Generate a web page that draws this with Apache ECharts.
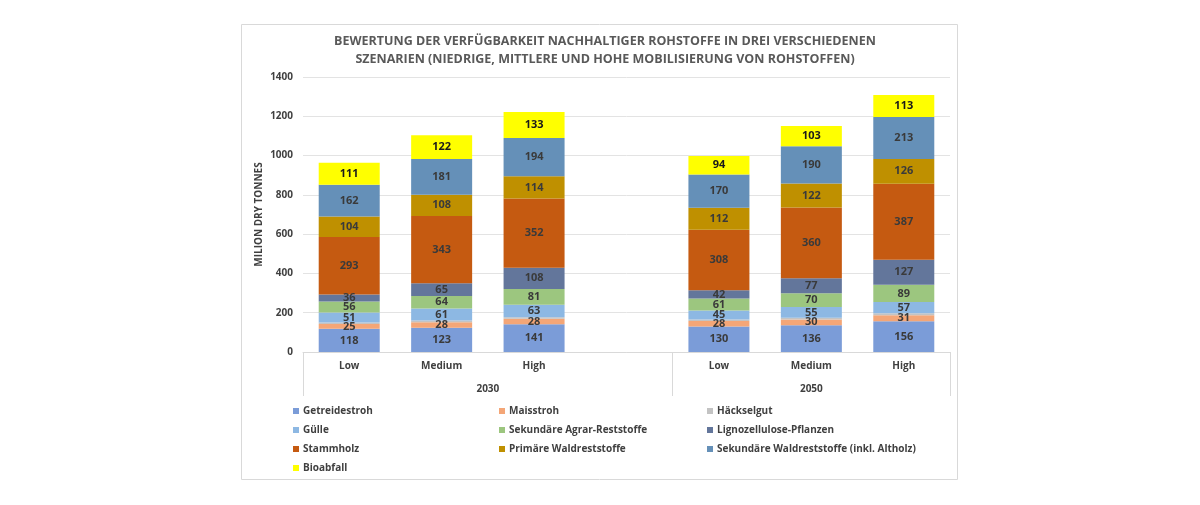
<!DOCTYPE html>
<html>
<head>
<meta charset="utf-8">
<script src="https://cdn.jsdelivr.net/npm/echarts@6/dist/echarts.min.js"></script>
<style>
  html, body { margin: 0; padding: 0; background: #fff; }
  #chart { width: 1200px; height: 505px; }
</style>
</head>
<body>
<div id="chart"></div>
<script>
// categories (empty slot separates the two years)
const categories = ["Low", "Medium", "High", "", "Low", "Medium", "High"];
const years = ["2030", "2050"];
const yearSlots = [4, 3];

const getreidestroh = [118, 123, 141, "-", 130, 136, 156];
const maisstroh = [25, 28, 28, "-", 28, 30, 31];
const haeckselgut = [7, 9, 8, "-", 8, 8, 10];
const guelle = [51, 61, 63, "-", 45, 55, 57];
const agrarReststoffe = [56, 64, 81, "-", 61, 70, 89];
const lignozellulose = [36, 65, 108, "-", 42, 77, 127];
const stammholz = [293, 343, 352, "-", 308, 360, 387];
const primaereWald = [104, 108, 114, "-", 112, 122, 126];
const sekundaereWald = [162, 181, 194, "-", 170, 190, 213];
const bioabfall = [111, 122, 133, "-", 94, 103, 113];

const FONT = "Open Sans";
const TXT = "#404040";

const seriesDefs = [
  { name: "Getreidestroh", data: getreidestroh, color: "#7b9cd8", label: true },
  { name: "Maisstroh", data: maisstroh, color: "#f4a677", label: true },
  { name: "Häckselgut", data: haeckselgut, color: "#c3c3c3", label: false },
  { name: "Gülle", data: guelle, color: "#8db8e3", label: true },
  { name: "Sekundäre Agrar-Reststoffe", data: agrarReststoffe, color: "#9cc67f", label: true },
  { name: "Lignozellulose-Pflanzen", data: lignozellulose, color: "#63769b", label: true },
  { name: "Stammholz", data: stammholz, color: "#c55a11", label: true },
  { name: "Primäre Waldreststoffe", data: primaereWald, color: "#bf9000", label: true },
  { name: "Sekundäre Waldreststoffe (inkl. Altholz)", data: sekundaereWald, color: "#6590b8", label: true },
  { name: "Bioabfall", data: bioabfall, color: "#ffff00", label: true },
];

// year axis: half-slot positions, boundaryGap false
const yearAxisData = [];
const yearTickIdx = [0];
const yearLabelIdx = {};
let pos = 0;
years.forEach((y, i) => {
  yearLabelIdx[pos + yearSlots[i]] = y;
  pos += yearSlots[i] * 2;
  yearTickIdx.push(pos);
});
for (let i = 0; i <= pos; i++) yearAxisData.push(yearLabelIdx[i] || "");

const chart = echarts.init(document.getElementById("chart"));

const legendCol = (left, names) => ({
  orient: "vertical",
  left: left,
  top: 405,
  padding: 0,
  itemGap: 7,
  itemWidth: 6,
  itemHeight: 6,
  icon: "rect",
  data: names,
  textStyle: { fontFamily: FONT, fontSize: 10, fontWeight: "bold", color: TXT, lineHeight: 12, padding: [0, 0, 0, -1] },
});

const option = {
  animation: false,
  textStyle: { fontFamily: FONT },
  title: {
    text: "BEWERTUNG DER VERFÜGBARKEIT NACHHALTIGER ROHSTOFFE IN DREI VERSCHIEDENEN\nSZENARIEN (NIEDRIGE, MITTLERE UND HOHE MOBILISIERUNG VON ROHSTOFFEN)",
    left: 600,
    top: 27,
    textAlign: "center",
    textStyle: { fontFamily: FONT, fontSize: 12.5, fontWeight: "bold", color: "#595959", lineHeight: 18 },
  },
  graphic: [
    {
      type: "rect",
      shape: { x: 241.5, y: 24.5, width: 716, height: 455 },
      style: { fill: "none", stroke: "#d9d9d9", lineWidth: 1 },
      silent: true,
    },
  ],
  legend: [
    legendCol(293, ["Getreidestroh", "Gülle", "Stammholz", "Bioabfall"]),
    legendCol(499, ["Maisstroh", "Sekundäre Agrar-Reststoffe", "Primäre Waldreststoffe"]),
    legendCol(707, ["Häckselgut", "Lignozellulose-Pflanzen", "Sekundäre Waldreststoffe (inkl. Altholz)"]),
  ],
  grid: { left: 303, right: 250, top: 77, bottom: 153 },
  xAxis: [
    {
      type: "category",
      data: categories,
      axisLine: { lineStyle: { color: "#d9d9d9" } },
      axisTick: { show: false },
      axisLabel: { color: TXT, fontSize: 10, fontWeight: "bold", margin: 9, interval: 0 },
    },
    {
      type: "category",
      position: "bottom",
      boundaryGap: false,
      data: yearAxisData,
      axisLine: { show: false },
      axisTick: {
        show: true,
        length: 44,
        interval: (i) => yearTickIdx.indexOf(i) >= 0,
        lineStyle: { color: "#d9d9d9" },
      },
      axisLabel: {
        color: TXT,
        fontSize: 10,
        fontWeight: "bold",
        margin: 32,
        interval: (i, v) => v !== "",
      },
    },
  ],
  yAxis: {
    type: "value",
    min: 0,
    max: 1400,
    interval: 200,
    name: "MILION DRY TONNES",
    nameLocation: "middle",
    nameRotate: 90,
    nameGap: 39,
    nameMoveOverlap: false,
    nameTextStyle: { fontFamily: FONT, fontSize: 10, fontWeight: "bold", color: TXT },
    axisLine: { show: false },
    axisTick: { show: false },
    axisLabel: { color: TXT, fontSize: 10, fontWeight: "bold", margin: 10, formatter: (v) => String(v) },
    splitLine: { lineStyle: { color: "#e3e3e3" } },
  },
  series: seriesDefs.map((s) => ({
    name: s.name,
    type: "bar",
    stack: "total",
    barWidth: "66%",
    data: s.data,
    itemStyle: { color: s.color },
    label: {
      show: s.label,
      position: "inside",
      fontFamily: FONT,
      fontSize: 11,
      fontWeight: "bold",
      color: s.name === "Bioabfall" ? "#1a1a1a" : "#3a3a3a",
    },
  })),
};

chart.setOption(option);
</script>
</body>
</html>
